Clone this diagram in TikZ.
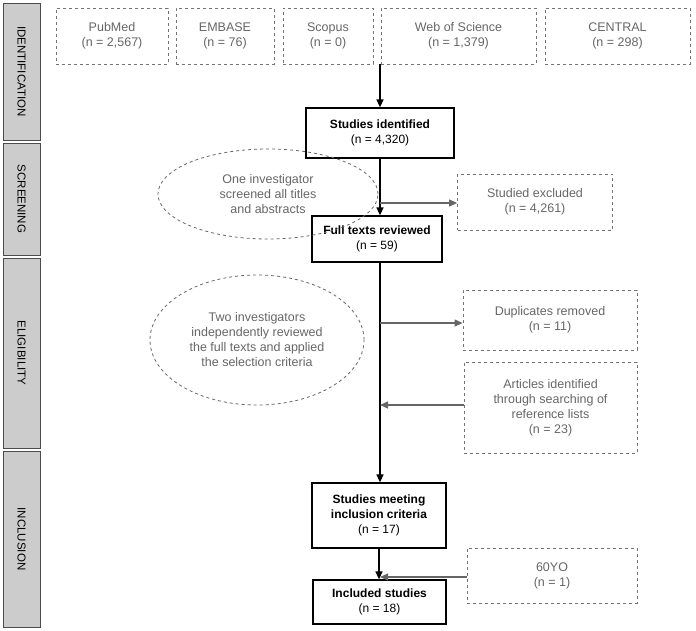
\documentclass[tikz,border=0pt]{standalone}
\usepackage{fontspec}
\setmainfont{Liberation Sans}
\usetikzlibrary{shapes.geometric,arrows.meta}
\begin{document}
\begin{tikzpicture}[x=1pt,y=-1pt,
 phase/.style={draw=black!70,fill=black!20,line width=0.8pt},
 src/.style={draw=black!55,dashed,line width=0.8pt,text=black!60,font=\fontsize{12.5}{15}\selectfont,align=center},
 main/.style={draw=black,line width=1.3pt,font=\fontsize{12}{15}\selectfont,align=center},
 ell/.style={draw=black!60,dashed,line width=0.8pt,ellipse,text=black!60,font=\fontsize{12.5}{15}\selectfont,align=center},
 ar/.style={-{Triangle[length=8pt,width=7pt]},line width=1.3pt},
 gar/.style={-{Triangle[length=8pt,width=7pt]},line width=1.1pt,draw=black!60}]
\useasboundingbox (0,0) rectangle (696,630);
\foreach \a/\b/\t/\n in {3/140/IDENTIFICATION/p1,143/255/SCREENING/p2,258/448/ELIGIBILITY/p3,451/627/INCLUSION/p4}{
 \draw[phase] (3,\a) rectangle (40,\b);
 \node[rotate=-90,font=\fontsize{11.5}{13}\selectfont] (\n) at (21.5,{(\a+\b)/2}) {\t};
}
\node[src,minimum width=112,minimum height=56] (pub) at (112,36) {PubMed\\(n = 2,567)};
\node[src,minimum width=98,minimum height=56] (emb) at (225,36) {EMBASE\\(n = 76)};
\node[src,minimum width=90,minimum height=56] (sco) at (328,36) {Scopus\\(n = 0)};
\node[src,minimum width=155,minimum height=56] (wos) at (458.5,36) {Web of Science\\(n = 1,379)};
\node[src,minimum width=145,minimum height=56] (cen) at (617.5,36) {CENTRAL\\(n = 298)};
\node[main,minimum width=148,minimum height=50] (id) at (380,133) {\textbf{Studies identified}\\(n = 4,320)};
\node[main,minimum width=130,minimum height=46] (ft) at (377,239) {\textbf{Full texts reviewed}\\(n = 59)};
\node[main,minimum width=134,minimum height=65] (sm) at (379,515.5) {\textbf{Studies meeting}\\\textbf{inclusion criteria}\\(n = 17)};
\node[main,minimum width=133,minimum height=44] (inc) at (379.5,602) {\textbf{Included studies}\\(n = 18)};
\node[src,minimum width=155,minimum height=56] (exc) at (535,202) {Studied excluded\\(n = 4,261)};
\node[src,minimum width=174,minimum height=60] (dup) at (550,320) {Duplicates removed\\(n = 11)};
\node[src,minimum width=173,minimum height=91] (art) at (550.5,407.5) {Articles identified\\through searching of\\reference lists\\(n = 23)};
\node[src,minimum width=170,minimum height=55] (yo) at (552,575.5) {60YO\\(n = 1)};
\node[ell,minimum width=220,minimum height=90,inner sep=0pt] (e1) at (268,194) {One investigator\\screened all titles\\and abstracts};
\node[ell,minimum width=214,minimum height=130,inner sep=0pt] (e2) at (257,340) {Two investigators\\independently reviewed\\the full texts and applied\\the selection criteria};
\coordinate (top) at (380,64);
\draw[ar] (top) -- (id);
\draw[ar] (id) -- (id.south|-ft.north);
\draw[ar] (id.south|-ft.south) -- (id.south|-sm.north);
\draw[ar] (sm) -- (sm.south|-inc.north);
\coordinate (j1) at (380,203);
\coordinate (j2) at (380,323);
\coordinate (j3) at (380,405);
\coordinate (j4) at (380,577);
\draw[gar] (j1) -- (exc.west|-j1);
\draw[gar] (j2) -- (dup.west|-j2);
\draw[gar] (art.west|-j3) -- (j3);
\draw[gar] (yo.west|-j4) -- (j4);
\end{tikzpicture}
\end{document}
